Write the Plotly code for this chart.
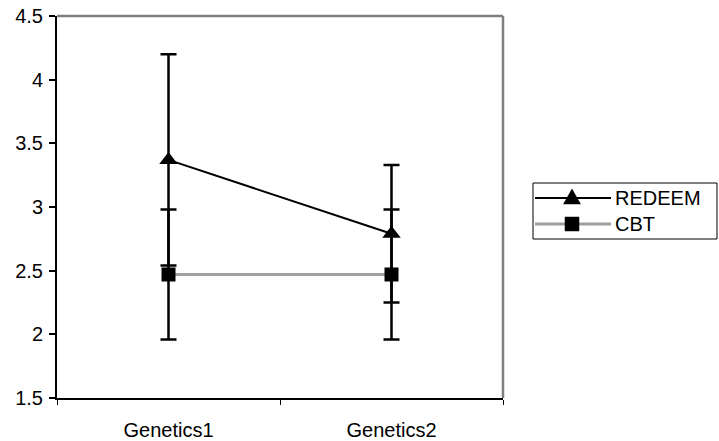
import plotly.graph_objects as go

categories = ["Genetics1", "Genetics2"]
redeem_mean = [3.37, 2.79]
redeem_err = [0.83, 0.54]
cbt_mean = [2.47, 2.47]
cbt_err = [0.51, 0.51]
y_ticks = [1.5, 2, 2.5, 3, 3.5, 4, 4.5]
y_labels = ["1.5", "2", "2.5", "3", "3.5", "4", "4.5"]
series_names = ["REDEEM", "CBT"]

FONT = "Liberation Sans, Arial, sans-serif"
FS = 20
W, H = 719, 441
ML, MR, MT, MB = 57, 216, 16, 43
PW, PH = W - ML - MR, H - MT - MB
GRAY = "#a0a0a0"


def px(x):
    return (x - ML) / PW


def py(y):
    return (H - MB - y) / PH


fig = go.Figure()
fig.add_trace(go.Scatter(
    x=categories, y=redeem_mean, name=series_names[0], mode="lines+markers",
    line=dict(color="black", width=2),
    marker=dict(symbol="triangle-up", size=16, color="black"),
    error_y=dict(type="data", array=redeem_err, visible=True, color="black",
                 thickness=2.5, width=8),
    showlegend=False,
))
fig.add_trace(go.Scatter(
    x=categories, y=cbt_mean, name=series_names[1], mode="lines+markers",
    line=dict(color=GRAY, width=3),
    marker=dict(symbol="square", size=14, color="black"),
    error_y=dict(type="data", array=cbt_err, visible=True, color="black",
                 thickness=2.5, width=8),
    showlegend=False,
))

# manual legend (Excel style: long sample line with marker in the middle)
lx0, lx1, ly0, ly1 = 533, 717, 183, 239
rows = [198, 224]
shapes = [
    dict(type="line", xref="paper", yref="paper", x0=0, x1=1, y0=1, y1=1,
         line=dict(color="#808080", width=2.5)),
    dict(type="line", xref="paper", yref="paper", x0=1, x1=1, y0=0, y1=1,
         line=dict(color="#808080", width=2.5)),
    dict(type="rect", xref="paper", yref="paper",
         x0=px(lx0), x1=px(lx1), y0=py(ly1), y1=py(ly0),
         line=dict(color="black", width=1), fillcolor="white", layer="below"),
]
annotations = []
line_styles = [dict(color="black", width=2), dict(color=GRAY, width=3)]
for i, (name, yrow) in enumerate(zip(series_names, rows)):
    shapes.append(dict(type="line", xref="paper", yref="paper",
                       x0=px(lx0 + 2), x1=px(611), y0=py(yrow), y1=py(yrow),
                       line=line_styles[i]))
    cx = 572
    if i == 0:
        path = "M {} {} L {} {} L {} {} Z".format(
            px(cx - 8.5), py(yrow + 6), px(cx + 8.5), py(yrow + 6),
            px(cx), py(yrow - 9))
        shapes.append(dict(type="path", xref="paper", yref="paper", path=path,
                           fillcolor="black", line=dict(color="black", width=0.5)))
    else:
        shapes.append(dict(type="rect", xref="paper", yref="paper",
                           x0=px(cx - 7), x1=px(cx + 7), y0=py(yrow + 7), y1=py(yrow - 7),
                           fillcolor="black", line=dict(color="black", width=0.5)))
    annotations.append(dict(x=px(613), y=py(yrow), xref="paper", yref="paper",
                            text=name, showarrow=False, xanchor="left", yanchor="middle",
                            font=dict(family=FONT, size=FS, color="black")))

fig.update_layout(
    width=W, height=H,
    margin=dict(l=ML, r=MR, t=MT, b=MB, autoexpand=False),
    paper_bgcolor="white", plot_bgcolor="white",
    font=dict(family=FONT, size=FS, color="black"),
    showlegend=False,
    xaxis=dict(
        type="category", range=[-0.5, 1.5], automargin=False,
        showline=True, linecolor="black", linewidth=2,
        showgrid=False, zeroline=False,
        ticks="outside", ticklen=5, tickcolor="black", tickwidth=1,
        tickson="boundaries", ticklabelstandoff=13,
    ),
    yaxis=dict(
        range=[1.5, 4.5], tickvals=y_ticks, ticktext=y_labels, automargin=False,
        showline=True, linecolor="black", linewidth=2,
        showgrid=False, zeroline=False,
        ticks="outside", ticklen=6, tickcolor="black", tickwidth=1.5,
        ticklabelstandoff=2,
    ),
    shapes=shapes,
    annotations=annotations,
)

fig.write_html("out.html")
